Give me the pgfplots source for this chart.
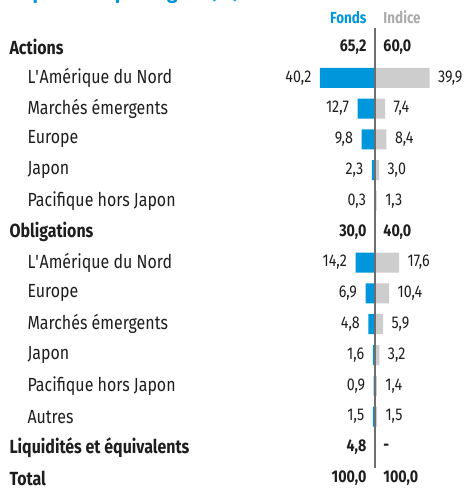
\documentclass[border=0pt]{standalone}
\usepackage{fontspec}
\setmainfont{Fira Sans}[FakeStretch=0.84]
\usepackage{pgfplots}
\pgfplotsset{compat=1.18}
\usepackage{pgfplotstable}
\definecolor{fonds}{HTML}{0096DB}
\definecolor{indice}{HTML}{CDCDCD}
\definecolor{indtxt}{HTML}{ABABAB}
\definecolor{midline}{HTML}{6E6E6E}
\definecolor{txt}{HTML}{1E1E1E}

% rows: 0 = top row (Actions), reversed y axis
\pgfplotstableread{
row fonds indice
1  40.2 39.9
2  12.7 7.4
3  9.8  8.4
4  2.3  3.0
5  0.3  1.3
7  14.2 17.6
8  6.9  10.4
9  4.8  5.9
10 1.6  3.2
11 0.9  1.4
12 1.5  1.5
}\bars

\pgfplotstableread{
row fonds indice
0  65,2  60,0
6  30,0  40,0
13 4,8   -
14 100,0 100,0
}\totals

\newcommand{\ind}{\hspace*{18pt}}

\begin{document}
\begin{tikzpicture}
\begin{axis}[
  scale only axis, width=464pt, height=488pt,
  xmin=-273.7, xmax=65, ymin=-1.526, ymax=14.318, y dir=reverse,
  axis line style={draw=none}, tick style={draw=none},
  xtick=\empty, ytick={0,...,14},
  yticklabels={{\bfseries Actions},
    {\ind L\textquotesingle Amérique du Nord}, {\ind Marchés émergents}, {\ind Europe},
    {\ind Japon}, {\ind Pacifique hors Japon},
    {\bfseries Obligations},
    {\ind L\textquotesingle Amérique du Nord}, {\ind Europe}, {\ind Marchés émergents},
    {\ind Japon}, {\ind Pacifique hors Japon}, {\ind Autres},
    {\bfseries Liquidités et équivalents}, {\bfseries Total}},
  yticklabel style={anchor=west, xshift=6pt, inner ysep=0.5pt, text=txt,
    font=\fontsize{19}{19}\selectfont},
  clip=false,
  /pgf/number format/.cd, use comma, fixed, fixed zerofill, precision=1, assume math mode=true,
]
\addplot[xbar, bar shift=0pt, bar width=20pt, fill=fonds, draw=none,
  nodes near coords, nodes near coords align={left}, point meta=explicit,
  every node near coord/.append style={xshift=-5pt, text=txt, font=\fontsize{17}{17}\selectfont}]
  table[x expr=-\thisrow{fonds}, y=row, meta=fonds] {\bars};
\addplot[xbar, bar shift=0pt, bar width=20pt, fill=indice, draw=none,
  nodes near coords, nodes near coords align={right}, point meta=explicit,
  every node near coord/.append style={xshift=5pt, text=txt, font=\fontsize{17}{17}\selectfont}]
  table[x=indice, y=row, meta=indice] {\bars};

\addplot[draw=none, mark=none,
  nodes near coords, nodes near coords align={left}, point meta=explicit symbolic,
  every node near coord/.append style={xshift=-5pt, inner ysep=0.5pt, text=txt,
    font=\bfseries\fontsize{17}{17}\selectfont}]
  table[x expr=0, y=row, meta=fonds] {\totals};
\addplot[draw=none, mark=none,
  nodes near coords, nodes near coords align={right}, point meta=explicit symbolic,
  every node near coord/.append style={xshift=5pt, inner ysep=0.5pt, text=txt,
    font=\bfseries\fontsize{17}{17}\selectfont}]
  table[x expr=0, y=row, meta=indice] {\totals};

\draw[midline, line width=1.6pt] (axis cs:0,-0.62) -- (axis cs:0,13.67);

\node[anchor=east, xshift=-5pt, text=fonds, font=\bfseries\fontsize{16}{16}\selectfont]
  at (axis cs:0,-0.97) {Fonds};
\node[anchor=west, xshift=5pt, text=indtxt, font=\bfseries\fontsize{16}{16}\selectfont]
  at (axis cs:0,-0.97) {Indice};

\node[anchor=base west, xshift=10pt, text=fonds, inner sep=0pt,
  font=\bfseries\fontsize{23}{23}\selectfont]
  at (axis cs:-273.7,-1.56) {Répartition par région (\%)};
\end{axis}
\pgfresetboundingbox
\useasboundingbox (current axis.south west) rectangle (current axis.north east);
\end{tikzpicture}
\end{document}
